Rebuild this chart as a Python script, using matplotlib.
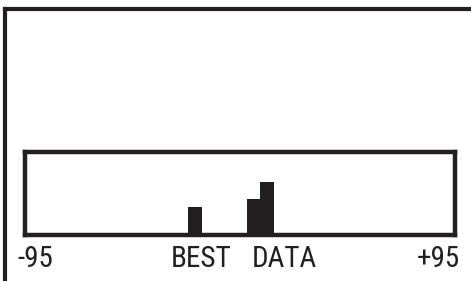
import matplotlib
matplotlib.use("Agg")
import matplotlib.pyplot as plt
import matplotlib.transforms as mtransforms
from matplotlib import font_manager

# Data
bin_left = [-22.8, 3.1, 9.0]
bin_width = [6.0, 6.0, 6.0]
counts = [3.4, 4.35, 6.4]
x_min, x_max = -95, 95
y_max = 10
tick_labels = ["-95", "BEST", "DATA", "+95"]
tick_pos = [-98.3, -17.1, 19.9, 97.3]
tick_ha = ["left", "center", "center", "right"]

INK = "#231f20"
W, H = 471, 281

names = {f.name for f in font_manager.fontManager.ttflist}
if "Roboto Condensed" in names:
    fam, fsize = "Roboto Condensed", 21
elif "Liberation Sans Narrow" in names:
    fam, fsize = "Liberation Sans Narrow", 20
else:
    fam, fsize = "Roboto", 18

fig = plt.figure(figsize=(W / 100, H / 100), dpi=100)

# Outer frame (left and top lines)
outer = fig.add_axes([5 / W, -0.2, 1.2, (H - 9) / H + 0.2])
for s in ["right", "bottom"]:
    outer.spines[s].set_visible(False)
for s in ["left", "top"]:
    outer.spines[s].set_linewidth(3.0)
    outer.spines[s].set_color(INK)
outer.set_xticks([]); outer.set_yticks([])
outer.patch.set_alpha(0)

# Inner histogram box
left, right, top, bottom = 24.5, 455.0, 152.0, 235.0
ax = fig.add_axes([left / W, (H - bottom) / H, (right - left) / W, (bottom - top) / H])
ax.bar(bin_left, counts, width=bin_width, align="edge", color=INK, edgecolor="none")
ax.set_xlim(x_min, x_max)
ax.set_ylim(0, y_max)
ax.set_xticks([]); ax.set_yticks([])
for s in ax.spines.values():
    s.set_linewidth(3.2)
    s.set_color(INK)

trans = mtransforms.blended_transform_factory(ax.transData, fig.transFigure)
for lab, xp, ha in zip(tick_labels, tick_pos, tick_ha):
    ax.text(xp, 14 / H, lab, transform=trans, ha=ha, va="baseline",
            fontsize=fsize, color=INK, family=[fam, "DejaVu Sans"],
            clip_on=False)

fig.savefig("out.png", dpi=100)
